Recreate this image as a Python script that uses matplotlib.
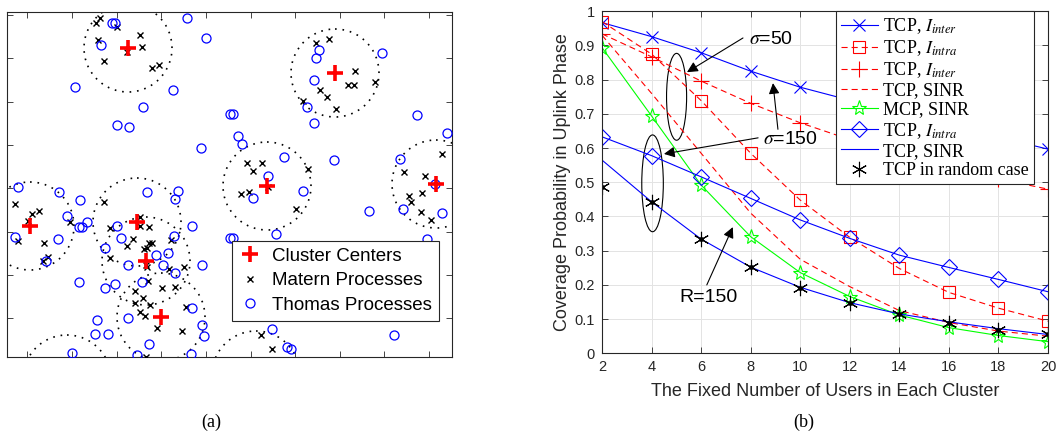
import matplotlib
matplotlib.use("Agg")
import matplotlib.pyplot as plt
from matplotlib.patches import Circle, Ellipse

plt.rcParams['font.family'] = ['Liberation Sans', 'DejaVu Sans']
plt.rcParams['mathtext.fontset'] = 'stix'

# ---------------- (a) point pattern, coordinates ----------------
center_x = [128, 335, 267, 436, 30, 137, 146, 161]
center_y = [48, 73, 186, 184, 226, 222, 261, 317]
# dotted cluster borders (two clusters have their centre outside the window)
ring_x = [128, 335, 267, 436, 30, 137, 146, 161, 67, 256]
ring_y = [48, 73, 186, 184, 226, 222, 261, 317, 379, 375]
ring_r = 44

matern_x = [100, 96, 117, 140, 98, 142, 127, 104, 152, 159,
            329, 316, 355, 348, 354, 375, 320, 327, 303, 336,
            247, 262, 253, 308, 241, 249, 268, 296,
            442, 404, 425, 409, 422, 411, 421, 431,
            15, 32, 39, 28, 18, 44, 48, 43, 70,
            104, 140, 140, 149, 110, 133, 127, 149, 152, 147, 144, 171, 110, 147,
            146, 169, 184, 148, 162, 175, 135, 143, 135, 150, 140, 145, 186, 157, 182, 146,
            261, 272]
matern_y = [18, 23, 27, 35, 40, 47, 52, 61, 68, 65,
            39, 43, 71, 85, 85, 82, 90, 97, 101, 109,
            163, 163, 171, 169, 194, 192, 187, 209,
            154, 172, 176, 196, 193, 202, 212, 220,
            204, 214, 211, 221, 241, 243, 257, 261, 222,
            202, 217, 226, 227, 228, 239, 246, 243, 243, 248, 249, 240, 258, 267,
            265, 269, 267, 281, 288, 287, 291, 298, 303, 305, 312, 316, 307, 328, 331, 357,
            335, 349]

thomas_x = [112, 115, 101, 187, 206, 75, 173, 143, 117, 129, 201, 230,
            319, 316, 382, 314, 307, 314, 233, 238, 242, 284, 334, 417, 447, 400,
            268, 253, 303, 369, 276, 233, 403, 442, 427, 435,
            18, 59, 80, 67, 79, 87, 82, 15, 58, 46, 79, 105, 115,
            147, 178, 175, 117, 121, 105, 174, 192, 168, 156, 128, 163, 175, 202, 230,
            142, 128, 192, 97, 95, 108, 149, 137, 202, 204, 191, 72,
            272, 394, 287, 291]
thomas_y = [23, 23, 45, 18, 38, 87, 90, 107, 125, 127, 148, 114,
            50, 58, 53, 80, 107, 123, 114, 136, 144, 157, 160, 115, 133, 159,
            176, 198, 191, 211, 234, 238, 209, 213, 239, 184,
            187, 192, 200, 216, 227, 222, 227, 237, 239, 261, 282, 288, 284,
            192, 191, 199, 226, 238, 248, 236, 226, 253, 255, 265, 265, 273, 265, 238,
            282, 318, 308, 320, 334, 334, 344, 355, 325, 336, 354, 353,
            329, 335, 347, 349]

xticks_a = [27, 72, 117, 161, 206, 251, 295, 340, 384, 429]
yticks_a = [15, 58, 102, 145, 188, 232, 275, 318]

# ---------------- (b) coverage probability ----------------
users = [2, 4, 6, 8, 10, 12, 14, 16, 18, 20]
tcp_inter_blue = [0.967, 0.926, 0.879, 0.825, 0.778, 0.740, 0.703, 0.668, 0.632, 0.597]
tcp_intra_red = [0.970, 0.875, 0.739, 0.585, 0.448, 0.339, 0.248, 0.178, 0.132, 0.094]
tcp_inter_red = [0.934, 0.867, 0.796, 0.731, 0.674, 0.625, 0.580, 0.545, 0.510, 0.480]
tcp_sinr_red = [0.930, 0.760, 0.585, 0.410, 0.275, 0.195, 0.125, 0.090, 0.065, 0.050]
mcp_sinr = [0.894, 0.694, 0.492, 0.341, 0.236, 0.166, 0.112, 0.075, 0.052, 0.034]
tcp_intra_blue = [0.633, 0.578, 0.516, 0.453, 0.390, 0.336, 0.287, 0.251, 0.216, 0.180]
tcp_sinr_blue = [0.565, 0.443, 0.334, 0.252, 0.193, 0.148, 0.115, 0.092, 0.072, 0.055]
random_case = [0.487, 0.443, 0.333, 0.252, 0.192, 0.147, 0.115, 0.090, 0.068, 0.056]

W, H = 1060, 440
fig = plt.figure(figsize=(W / 100, H / 100), dpi=100)
axis_col = '#262626'
dash = (0, (5.5, 3.6))

# ---- panel (a)
ax1 = fig.add_axes([7 / W, 1 - 357 / H, 445 / W, 345 / H])
for cx, cy in zip(ring_x, ring_y):
    ax1.add_patch(Circle((cx, cy), ring_r, fill=False, edgecolor='k',
                         linestyle=(0, (1, 3.5)), lw=1.2))
ax1.plot(center_x, center_y, '+', color='r', ms=12, mew=2.6, zorder=5, label='Cluster Centers')
ax1.plot(matern_x, matern_y, 'x', color='k', ms=5, mew=1.0, zorder=3, label='Matern Processes')
ax1.plot(thomas_x, thomas_y, 'o', color='b', mfc='none', ms=6.5, mew=0.9, zorder=4, label='Thomas Processes')
ax1.set_xlim(7, 452)
ax1.set_ylim(357, 12)
ax1.set_xticks(xticks_a)
ax1.set_yticks(yticks_a)
ax1.tick_params(direction='in', top=True, right=True, labelbottom=False, labelleft=False,
                length=4, width=0.6, color=axis_col)
for s in ax1.spines.values():
    s.set_color(axis_col)
    s.set_linewidth(0.8)
leg1 = ax1.legend(loc='upper left', bbox_to_anchor=(232 / W, 1 - 241 / H),
                  bbox_transform=fig.transFigure, borderaxespad=0, fontsize=13.5,
                  fancybox=False, edgecolor=axis_col, framealpha=1,
                  handlelength=1.2, handletextpad=0.6, labelspacing=0.4, borderpad=0.35)
leg1.get_frame().set_linewidth(0.8)

# ---- panel (b)
ax2 = fig.add_axes([602 / W, 1 - 353.3 / H, 446 / W, 342 / H])
ax2.plot(users, tcp_inter_blue, '-x', color='b', lw=0.8, ms=8, mew=0.8, label=r'TCP, $I_{inter}$')
ax2.plot(users, tcp_intra_red, marker='s', linestyle=dash, color='r', lw=0.8, ms=8, mew=0.8,
         mfc='none', label=r'TCP, $I_{intra}$')
ax2.plot(users, tcp_inter_red, marker='+', linestyle=dash, color='r', lw=0.8, ms=11, mew=0.8,
         label=r'TCP, $I_{inter}$')
ax2.plot(users, tcp_sinr_red, linestyle=dash, color='r', lw=0.8, label='TCP, SINR')
ax2.plot(users, mcp_sinr, '-*', color='#00ff00', lw=0.8, ms=11, mew=0.8, mfc='none', label='MCP, SINR')
ax2.plot(users, tcp_intra_blue, '-D', color='b', lw=0.8, ms=8, mew=0.8, mfc='none', label=r'TCP, $I_{intra}$')
ax2.plot(users, tcp_sinr_blue, '-', color='b', lw=0.8, label='TCP, SINR')
ax2.plot(users, random_case, linestyle='none', marker=(6, 2, 0), color='k', ms=11, mew=0.8,
         label='TCP in random case')
ax2.plot(users, random_case, linestyle='none', marker='o', color='k', ms=2.5)

ax2.add_patch(Ellipse((5.01, 0.75), 0.81, 0.254, fill=False, edgecolor='k', lw=0.8))
ax2.add_patch(Ellipse((4.04, 0.497), 0.87, 0.283, fill=False, edgecolor='k', lw=0.8))
arrow = dict(arrowstyle='-|>', color='k', lw=0.8, mutation_scale=16, shrinkA=0, shrinkB=0)
ax2.annotate('', xy=(5.43, 0.822), xytext=(7.69, 0.922), arrowprops=arrow)
ax2.text(7.95, 0.918, r'$\sigma$=50', fontsize=14, va='center', ha='left')
ax2.annotate('', xy=(8.9, 0.79), xytext=(9.1, 0.655), arrowprops=arrow)
ax2.annotate('', xy=(4.5, 0.583), xytext=(8.3, 0.630), arrowprops=arrow)
ax2.text(8.5, 0.624, r'$\sigma$=150', fontsize=14, va='center', ha='left')
ax2.annotate('', xy=(7.28, 0.369), xytext=(6.23, 0.200), arrowprops=arrow)
ax2.text(6.31, 0.162, 'R=150', fontsize=14, va='center', ha='center')

ax2.set_xlim(2, 20)
ax2.set_ylim(0, 1)
ax2.set_xticks(users)
ax2.set_yticks([i / 10 for i in range(11)])
ax2.set_yticklabels(['0', '0.1', '0.2', '0.3', '0.4', '0.5', '0.6', '0.7', '0.8', '0.9', '1'])
ax2.tick_params(direction='in', top=True, right=True, length=4, width=0.6,
                color=axis_col, labelcolor=axis_col, labelsize=10.5, pad=5)
ax2.grid(True, color='#e3e3e3', lw=0.7)
ax2.set_axisbelow(True)
for s in ax2.spines.values():
    s.set_color(axis_col)
    s.set_linewidth(0.8)
ax2.set_xlabel('The Fixed Number of Users in Each Cluster', fontsize=13, color=axis_col, labelpad=6)
ax2.set_ylabel('Coverage Probability in Uplink Phase', fontsize=13, color=axis_col, labelpad=3)
leg2 = ax2.legend(loc='upper left', bbox_to_anchor=(836 / W, 1 - 11 / H),
                  bbox_transform=fig.transFigure, borderaxespad=0,
                  prop={'family': 'Liberation Serif', 'size': 13},
                  fancybox=False, edgecolor=axis_col, framealpha=1,
                  handlelength=2.0, handletextpad=0.3, labelspacing=0.12, borderpad=0.3)
leg2.get_frame().set_linewidth(0.8)

fig.text(211 / W, 1 - 422 / H, '(a)', family='Liberation Serif', fontsize=13, ha='center', va='center')
fig.text(804 / W, 1 - 422 / H, '(b)', family='Liberation Serif', fontsize=13, ha='center', va='center')

fig.savefig('out.png', dpi=100)
